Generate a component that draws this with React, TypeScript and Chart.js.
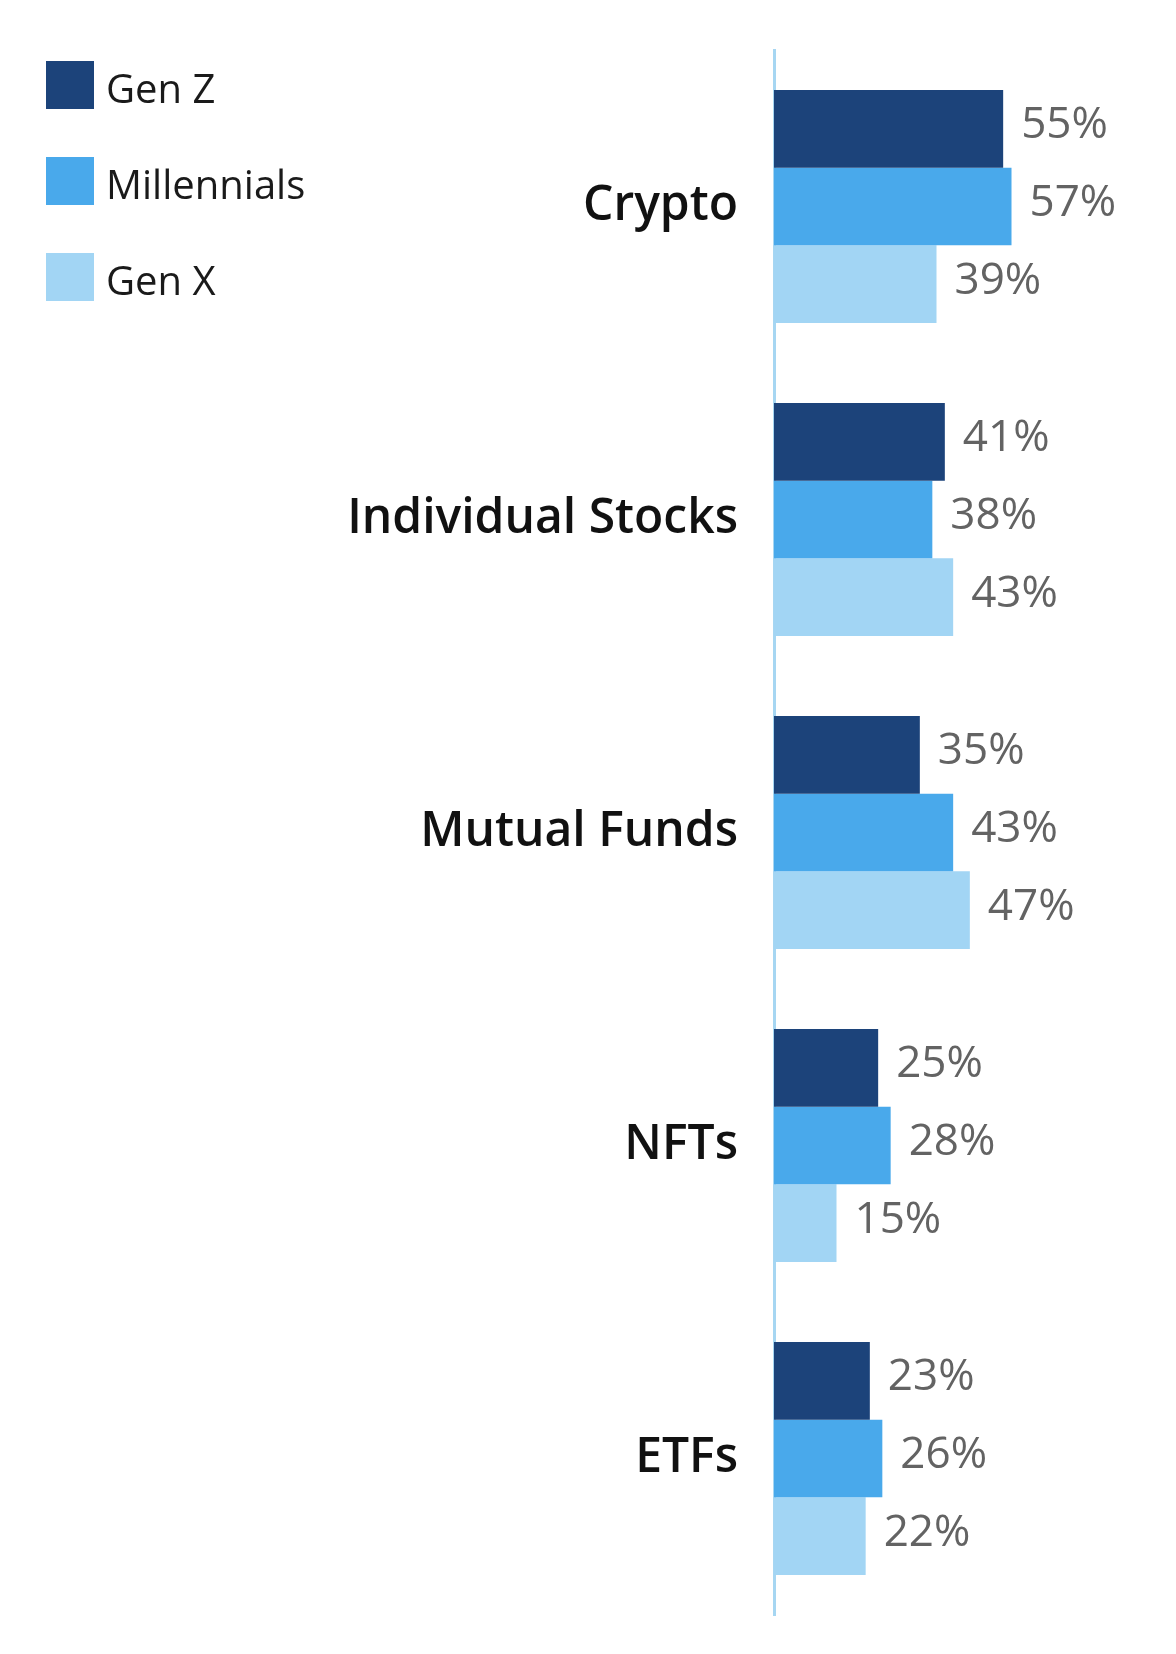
import React, { useEffect, useRef } from "react";
import { Chart, registerables } from "chart.js";

Chart.register(...registerables);

const categories = ["Crypto", "Individual Stocks", "Mutual Funds", "NFTs", "ETFs"];
const seriesNames = ["Gen Z", "Millennials", "Gen X"];
const genZ = [55, 41, 35, 25, 23];
const millennials = [57, 38, 43, 28, 26];
const genX = [39, 43, 47, 15, 22];
const seriesColors = ["#1c437a", "#49a9eb", "#a2d5f4"];

const FONT = "'Open Sans', 'Noto Sans', sans-serif";

const valueLabels = {
  id: "valueLabels",
  afterDatasetsDraw(chart: any) {
    const ctx = chart.ctx;
    ctx.save();
    ctx.font = `400 44px ${FONT}`;
    ctx.fillStyle = "#636363";
    ctx.textAlign = "left";
    ctx.textBaseline = "middle";
    chart.data.datasets.forEach((ds: any, di: number) => {
      const meta = chart.getDatasetMeta(di);
      meta.data.forEach((el: any, i: number) => {
        ctx.fillText(`${ds.data[i]}%`, el.x + 18, el.y - 3);
      });
    });
    ctx.restore();
  },
};

const sideLegend = {
  id: "sideLegend",
  afterDraw(chart: any) {
    const ctx = chart.ctx;
    ctx.save();
    chart.data.datasets.forEach((ds: any, i: number) => {
      const top = 61 + i * 96;
      ctx.fillStyle = ds.backgroundColor;
      ctx.fillRect(46, top, 48, 48);
      ctx.font = `400 40px ${FONT}`;
      ctx.fillStyle = "#1a1a1a";
      ctx.textAlign = "left";
      ctx.textBaseline = "middle";
      ctx.fillText(ds.label, 106, top + 31);
    });
    ctx.restore();
  },
};

export default function App() {
  const ref = useRef<HTMLCanvasElement | null>(null);

  useEffect(() => {
    if (!ref.current) return;
    const values = [genZ, millennials, genX];
    const chart = new Chart(ref.current, {
      type: "bar",
      data: {
        labels: categories,
        datasets: seriesNames.map((name, i) => ({
          label: name,
          data: values[i],
          backgroundColor: seriesColors[i],
          borderWidth: 0,
          barPercentage: 1,
          categoryPercentage: 0.745,
        })),
      },
      options: {
        indexAxis: "y",
        animation: false,
        responsive: true,
        maintainAspectRatio: false,
        layout: { padding: { left: 0, right: 2, top: 50, bottom: 39 } },
        plugins: {
          legend: { display: false },
          tooltip: { enabled: false },
        },
        scales: {
          x: {
            display: false,
            min: 0,
            max: 96,
          },
          y: {
            grid: { display: false, drawTicks: false },
            border: { display: true, color: "#a6d6f2", width: 3 },
            ticks: {
              padding: 36,
              color: "#111111",
              font: { family: FONT, size: 48, weight: 600 },
            },
            afterFit: (scale: any) => {
              scale.width = 774;
              scale.paddingTop = 0;
              scale.paddingBottom = 0;
            },
          },
        },
      },
      plugins: [valueLabels, sideLegend],
    });
    return () => chart.destroy();
  }, []);

  return (
    <div style={{ position: "absolute", left: 0, top: 0, width: 1176, height: 1654, background: "#ffffff" }}>
      <canvas ref={ref} />
    </div>
  );
}
